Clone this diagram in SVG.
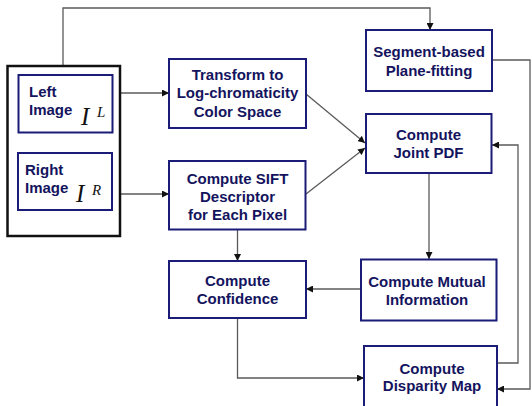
<svg xmlns="http://www.w3.org/2000/svg" width="532" height="406" viewBox="0 0 532 406">
<defs>
<style>
.box{fill:#fff;stroke:#1b1b78;stroke-width:2}
.outer{fill:#fff;stroke:#111;stroke-width:2.5}
.t{font-family:"Liberation Sans",Arial,sans-serif;font-weight:bold;font-size:15px;fill:#14145e;text-anchor:middle}
.tl{font-family:"Liberation Sans",Arial,sans-serif;font-weight:bold;font-size:15px;fill:#14145e}
.m{font-family:"Liberation Serif","Times New Roman",serif;font-style:italic;fill:#111}
.c{fill:none;stroke:#5a5a5a;stroke-width:1.3}
</style>
<marker id="ah" viewBox="0 0 8 8" refX="8" refY="4" markerWidth="7" markerHeight="7" markerUnits="userSpaceOnUse" orient="auto">
<path d="M0,0 L8,4 L0,8 z" fill="#111"/>
</marker>
</defs>
<rect width="532" height="406" fill="#fff"/>

<g id="connectors">
<path class="c" d="M63,66 V8 H430 V30" marker-end="url(#ah)"/>
<path class="c" d="M120,93 H169" marker-end="url(#ah)"/>
<path class="c" d="M120,194 H169" marker-end="url(#ah)"/>
<path class="c" d="M306,94 L365,143" marker-end="url(#ah)"/>
<path class="c" d="M306,194 L365,148" marker-end="url(#ah)"/>
<path class="c" d="M492,60 H530 V389 H497" marker-end="url(#ah)"/>
<path class="c" d="M497,363 H518 V145 H492" marker-end="url(#ah)"/>
<path class="c" d="M429,173 V259" marker-end="url(#ah)"/>
<path class="c" d="M237.5,230 V261" marker-end="url(#ah)"/>
<path class="c" d="M361,289 H306" marker-end="url(#ah)"/>
<path class="c" d="M237.5,318 V378 H364" marker-end="url(#ah)"/>
</g>

<g id="input">
<rect class="outer" x="7.5" y="66" width="112.5" height="170"/>
<g id="left-image">
<rect class="box" x="18.5" y="75" width="94" height="57.5"/>
<text class="tl" x="29" y="97">Left</text>
<text class="tl" x="29" y="115">Image</text>
<text class="m" x="81" y="124.5" font-size="25">I</text>
<text class="m" x="97" y="117" font-size="15">L</text>
</g>
<g id="right-image">
<rect class="box" x="18" y="153" width="94" height="57"/>
<text class="tl" x="25" y="175">Right</text>
<text class="tl" x="25" y="193">Image</text>
<text class="m" x="76" y="202" font-size="25">I</text>
<text class="m" x="92" y="195" font-size="15">R</text>
</g>
</g>

<g id="transform">
<rect class="box" x="169" y="59" width="137" height="69"/>
<text class="t" x="237.5" y="80">Transform to</text>
<text class="t" x="237.5" y="98">Log-chromaticity</text>
<text class="t" x="237.5" y="116.5">Color Space</text>
</g>

<g id="sift">
<rect class="box" x="169" y="161" width="136.5" height="68.5"/>
<text class="t" x="237.5" y="184">Compute SIFT</text>
<text class="t" x="237.5" y="201.5">Descriptor</text>
<text class="t" x="237.5" y="219.5">for Each Pixel</text>
</g>

<g id="segment">
<rect class="box" x="366" y="30" width="126" height="61"/>
<text class="t" x="429" y="57">Segment-based</text>
<text class="t" x="429" y="75.5">Plane-fitting</text>
</g>

<g id="joint-pdf">
<rect class="box" x="366" y="114" width="125.5" height="59"/>
<text class="t" x="428.5" y="140">Compute</text>
<text class="t" x="428.5" y="157.5">Joint PDF</text>
</g>

<g id="confidence">
<rect class="box" x="169" y="261" width="137" height="57"/>
<text class="t" x="237.5" y="286">Compute</text>
<text class="t" x="237.5" y="304">Confidence</text>
</g>

<g id="mutual-info">
<rect class="box" x="361" y="259.5" width="135.5" height="61"/>
<text class="t" x="427" y="286.5">Compute Mutual</text>
<text class="t" x="427" y="304.5">Information</text>
</g>

<g id="disparity">
<rect class="box" x="364" y="346" width="133" height="70"/>
<text class="t" x="432" y="373.5">Compute</text>
<text class="t" x="432" y="391">Disparity Map</text>
</g>
</svg>
